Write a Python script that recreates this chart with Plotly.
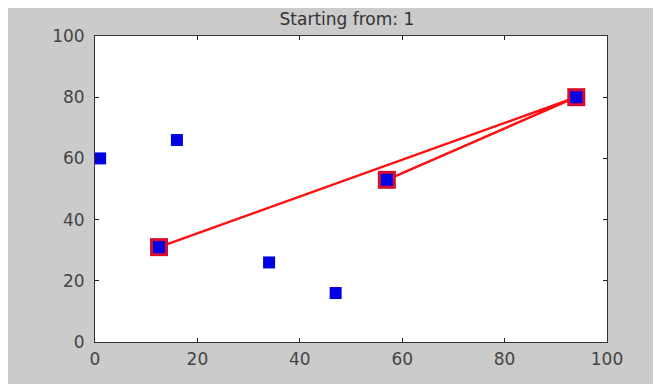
import plotly.graph_objects as go

# City coordinates
city_x = [1, 16, 12.5, 34, 47, 57, 94]
city_y = [60, 66, 31, 26, 16, 53, 80]

# Route drawn in red
route_x = [12.5, 94, 57]
route_y = [31, 80, 53]

title_text = "Starting from: 1"
tick_vals = [0, 20, 40, 60, 80, 100]

fig = go.Figure()
fig.add_trace(go.Scatter(
    x=route_x, y=route_y, mode="lines+markers",
    line=dict(color="#ff1010", width=2.5),
    marker=dict(symbol="square", size=18, color="#d80c30"),
    showlegend=False, hoverinfo="skip"))
fig.add_trace(go.Scatter(
    x=city_x, y=city_y, mode="markers",
    marker=dict(symbol="square", size=12, color="#0000e6"),
    showlegend=False))

axis_common = dict(
    range=[0, 100], tickvals=tick_vals, ticks="inside", ticklen=4,
    tickcolor="#222", showline=True, linecolor="#333", linewidth=1,
    mirror="ticks", showgrid=False, zeroline=False,
    tickfont=dict(family="DejaVu Sans", size=17, color="#444"),
)

fig.update_layout(
    width=653, height=376,
    margin=dict(l=87, r=54, t=28, b=42),
    paper_bgcolor="#cbcbcb", plot_bgcolor="white",
    xaxis=dict(**axis_common, ticklabelstandoff=2),
    yaxis=dict(**axis_common, ticklabelstandoff=6),
    title=dict(text=title_text, x=0.519, xanchor="center", y=0.971, yanchor="middle",
               font=dict(family="DejaVu Sans", size=17, color="#333")),
)

fig.write_html("out.html")
